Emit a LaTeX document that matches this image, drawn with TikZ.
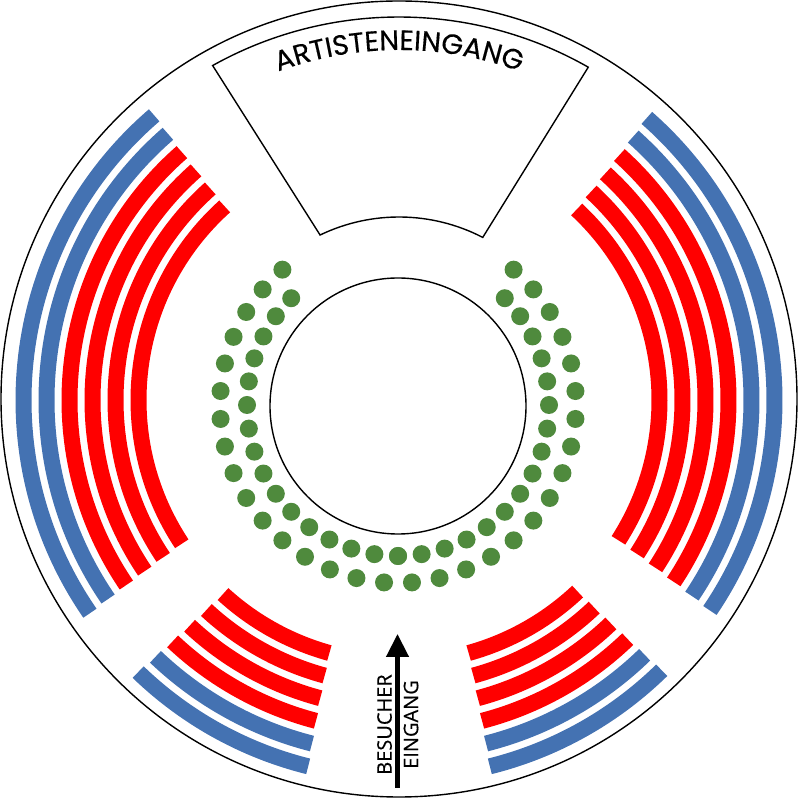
\documentclass[tikz,border=0pt]{standalone}
\usepackage{fontspec}
\usetikzlibrary{arrows.meta,decorations.text}
\setmainfont{Open Sans}
\newfontfamily\archfont[FakeBold=0.35]{Poppins}
\newfontfamily\entryfont[FakeBold=0.3]{Open Sans}
\definecolor{bandred}{HTML}{FF0000}
\definecolor{bandblue}{HTML}{4472B2}
\definecolor{dotgreen}{HTML}{4F8A3D}
\tikzset{
  outline/.style={draw=black,line width=1.4pt},
  seat/.style={fill=dotgreen},
  rowred/.style={draw=bandred,line width=16pt},
  rowblue/.style={draw=bandblue,line width=16pt},
  entry/.style={font=\entryfont\fontsize{20}{21}\selectfont,rotate=90,inner sep=0pt}
}
% #1 colour style, #2 cx, #3 cy, #4 r, #5 start, #6 end
\newcommand{\bandarc}[6]{\draw[#1] ({#2+#4*cos(#5)},{#3+#4*sin(#5)}) arc[start angle=#5,end angle=#6,radius=#4];}
\begin{document}
\begin{tikzpicture}[x=1pt,y=1pt]
\useasboundingbox (0,0) rectangle (800,800);
% outer and inner circles
\draw[outline] (399,401) circle[radius=398];
\draw[outline] (398,394) circle[radius=128];
% stage
\draw[outline,line join=miter] ({399+382*cos(119.2)},{401+382*sin(119.2)})
  arc[start angle=119.2,end angle=60.3,radius=382]
  -- ({399+182*cos(62.6)},{401+182*sin(62.6)})
  arc[start angle=62.6,end angle=115.7,radius=182] -- cycle;
\path[decorate,decoration={text along path,text align=center,
  text={|\archfont\fontsize{28}{30}\selectfont|ARTISTENEINGANG}}]
  ({399+349*cos(115)},{401+349*sin(115)}) arc[start angle=115,end angle=65,radius=349];
% rows
\foreach \k in {0,...,5}{
  \pgfmathsetmacro{\rr}{260.5+23*\k}
  \pgfmathsetmacro{\ta}{132-0.26*\k}
  \pgfmathsetmacro{\tb}{213.5+0.22*\k}
  \pgfmathsetmacro{\fa}{227.5-0.3*\k}
  \pgfmathsetmacro{\fb}{254.5+0.3*\k}
  \pgfmathsetmacro{\mta}{47+0.34*\k}
  \pgfmathsetmacro{\mtb}{-32.6-0.3*\k}
  \pgfmathsetmacro{\mfa}{-46.7+0.22*\k}
  \pgfmathsetmacro{\mfb}{-74.5-0.3*\k}
  \ifnum\k<4 \def\sty{rowred}\else \def\sty{rowblue}\fi
  \bandarc{\sty}{399}{400}{\rr}{\ta}{\tb}
  \bandarc{\sty}{399}{400}{\rr}{\mta}{\mtb}
  \bandarc{\sty}{399}{398}{\rr}{\fa}{\fb}
  \bandarc{\sty}{399}{398}{\rr}{\mfa}{\mfb}
}
% seats
\foreach \k in {0,...,15}{
  \fill[seat] ({398+178*sin(4.5+9*\k)},{395-178*cos(4.5+9*\k)}) circle[radius=9];
  \fill[seat] ({398-178*sin(4.5+9*\k)},{395-178*cos(4.5+9*\k)}) circle[radius=9];
  \fill[seat] ({398+151*sin(9*\k)},{395-151*cos(9*\k)}) circle[radius=9];
  \fill[seat] ({398-151*sin(9*\k)},{395-151*cos(9*\k)}) circle[radius=9];
}
% entrance
\coordinate (arrowfoot) at (397.5,12);
\coordinate (arrowtip) at (397.5,166);
\draw[line width=4.4pt,-{Triangle[width=22pt,length=23pt]}] (arrowfoot) -- (arrowtip);
\node[entry] (besucher) at (384.5,75.5) {BESUCHER};
\node[entry] (eingang) at (411,75.5) {EINGANG};
\end{tikzpicture}
\end{document}
